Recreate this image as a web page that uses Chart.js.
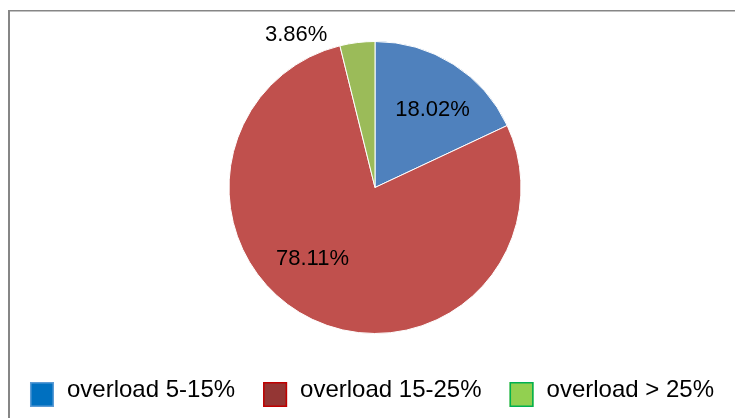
<!DOCTYPE html>
<html>
<head>
<meta charset="utf-8">
<script src="https://cdn.jsdelivr.net/npm/chart.js@4/dist/chart.umd.min.js"></script>
<style>
  html, body { margin: 0; padding: 0; background: #ffffff; }
  #wrap { width: 735px; height: 418px; }
</style>
</head>
<body>
<div id="wrap"><canvas id="c" width="735" height="418"></canvas></div>
<script>
// ---- data ----
const categories = ['overload 5-15%', 'overload 15-25%', 'overload > 25%'];
const shares = [18.02, 78.11, 3.86];
const sliceColors = ['#4F81BD', '#C0504D', '#9BBB59'];
const legendFill = ['#0070C0', '#943634', '#92D050'];
const legendStroke = ['#5B9BD5', '#C00000', '#00B050'];

// label placement relative to each arc (angle in degrees, fraction of radius)
const labelPlacement = [
  { angle: -54.0, frac: 0.67 },
  { angle: 132.0, frac: 0.64 },
  { angle: -117, frac: 1.19 }
];

const framePlugin = {
  id: 'frame',
  beforeDraw(chart) {
    const ctx = chart.ctx;
    ctx.save();
    ctx.fillStyle = '#ffffff';
    ctx.fillRect(0, 0, chart.width, chart.height);
    ctx.fillStyle = '#868686';
    ctx.fillRect(8, 10, chart.width - 8, 1.5);
    ctx.fillRect(8, 10, 2, chart.height - 10);
    ctx.restore();
  }
};

const labelPlugin = {
  id: 'sliceLabels',
  afterDatasetsDraw(chart) {
    const ctx = chart.ctx;
    const meta = chart.getDatasetMeta(0);
    ctx.save();
    ctx.font = '22px "Liberation Sans", Arial, sans-serif';
    ctx.fillStyle = '#000000';
    ctx.textAlign = 'center';
    ctx.textBaseline = 'alphabetic';
    meta.data.forEach((arc, i) => {
      const p = labelPlacement[i];
      const a = p.angle * Math.PI / 180;
      const r = arc.outerRadius * p.frac;
      const x = arc.x + r * Math.cos(a);
      const y = arc.y + r * Math.sin(a);
      ctx.fillText(shares[i].toFixed(2) + '%', x, y + 8);
    });
    ctx.restore();
  }
};

const legendPlugin = {
  id: 'customLegend',
  afterDraw(chart) {
    const ctx = chart.ctx;
    ctx.save();
    ctx.font = '24px "Liberation Sans", Arial, sans-serif';
    const boxW = 24, boxH = 25, gap = 13, pad = 28;
    const widths = categories.map(t => boxW + gap + ctx.measureText(t).width);
    const total = widths.reduce((s, w) => s + w, 0) + pad * (categories.length - 1);
    let x = 372 - total / 2;
    const boxTop = 382, baseline = 397;
    categories.forEach((t, i) => {
      ctx.fillStyle = legendFill[i];
      ctx.fillRect(x, boxTop, boxW, boxH);
      ctx.strokeStyle = legendStroke[i];
      ctx.lineWidth = 1.5;
      ctx.strokeRect(x + 0.75, boxTop + 0.75, boxW - 1.5, boxH - 1.5);
      ctx.fillStyle = '#000000';
      ctx.textAlign = 'left';
      ctx.textBaseline = 'alphabetic';
      ctx.fillText(t, x + boxW + gap, baseline);
      x += widths[i] + pad;
    });
    ctx.restore();
  }
};

new Chart(document.getElementById('c'), {
  type: 'pie',
  data: {
    labels: categories,
    datasets: [{
      data: shares,
      backgroundColor: sliceColors,
      borderColor: '#ffffff',
      borderWidth: 1
    }]
  },
  options: {
    responsive: false,
    devicePixelRatio: 1,
    animation: false,
    layout: { padding: { top: 41, bottom: 84, left: 15, right: 0 } },
    plugins: {
      legend: { display: false },
      tooltip: { enabled: false }
    }
  },
  plugins: [framePlugin, labelPlugin, legendPlugin]
});
</script>
</body>
</html>
